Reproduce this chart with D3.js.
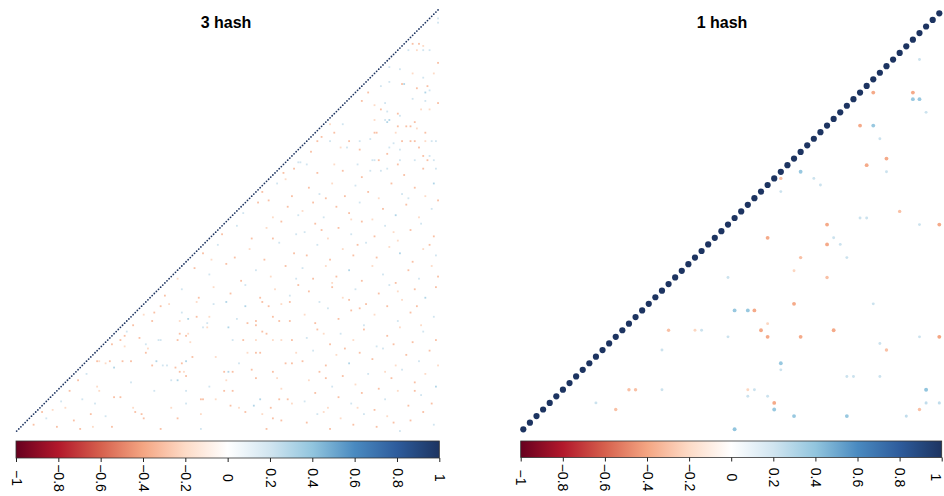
<!DOCTYPE html>
<html>
<head>
<meta charset="utf-8">
<script src="https://cdn.jsdelivr.net/npm/d3@7.9.0/dist/d3.min.js"></script>
<style>
  body { margin: 0; background: #fff; }
  svg { display: block; font-family: "Liberation Sans", Arial, sans-serif; }
</style>
</head>
<body>
<svg id="chart" width="944" height="496"></svg>
<script>
// two correlation plots, lower-right triangle, rows counted from the bottom
const panelTitles = ["3 hash", "1 hash"];
const varCounts = [200, 64];
const legendTicks = [-1, -0.8, -0.6, -0.4, -0.2, 0, 0.2, 0.4, 0.6, 0.8, 1];
const colorStops = ["#67001F", "#B2182B", "#D6604D", "#F4A582", "#FDDBC7", "#FFFFFF",
                    "#D1E5F0", "#92C5DE", "#4A8AC0", "#2E5C9C", "#1D3461"];

// [column, row, correlation] for the visible off-diagonal cells
const hash3Cells = [
  // lower middle block
  [68,59,-0.3],[72,60,-0.2],[85,61,-0.2],[93,60,0.2],[99,61,0.3],[108,59,0.3],[116,61,-0.3],[119,59,-0.3],[125,60,-0.2],[129,61,-0.3],
  [65,56,-0.3],[78,56,0.2],[85,54,-0.3],[91,54,-0.2],[64,52,-0.3],[77,52,-0.2],[81,53,0.3],[90,51,0.2],[100,49,0.3],[104,53,0.2],
  [109,51,-0.3],[113,52,-0.3],[113,50,-0.3],[121,54,-0.3],[124,52,-0.3],[129,52,-0.3],
  [51,45,-0.3],[49,43,-0.3],[51,40,-0.2],[61,37,-0.3],[62,39,-0.2],[67,43,0.2],[68,43,0.2],[76,43,-0.3],[77,46,-0.3],[80,45,-0.3],
  [81,46,-0.2],[82,42,-0.2],[88,49,0.2],[90,49,-0.2],[102,43,0.2],[107,43,-0.3],[113,43,-0.2],[116,47,-0.3],[118,46,-0.3],[121,43,-0.2],
  [125,43,-0.2],[130,43,-0.3],
  [44,33,-0.3],[42,32,-0.2],[46,30,0.3],[39,33,-0.2],[50,33,-0.3],[54,33,-0.3],[64,31,-0.3],[66,33,0.3],[69,31,0.2],[71,31,0.2],
  [75,30,-0.3],[78,32,-0.3],[80,33,0.3],[83,35,-0.3],[77,28,-0.3],[79,28,-0.2],[80,26,-0.3],[94,35,-0.2],[98,28,-0.3],[100,28,0.3],
  [102,28,-0.3],[105,32,0.2],[109,37,-0.2],[113,37,-0.3],[115,37,-0.3],[111,29,-0.3],[113,25,-0.3],[121,28,-0.3],[123,25,-0.2],[127,32,-0.3],
  [130,32,-0.3],[132,37,-0.2],
  [39,19,-0.2],[46,16,-0.3],[49,16,-0.3],[54,23,0.2],[42,7,0.2],[45,2,-0.3],[55,11,-0.2],[56,9,-0.3],[59,8,-0.3],[60,6,-0.3],
  [65,19,0.2],[73,24,0.2],[76,24,0.3],[80,19,0.2],[80,13,0.2],[68,1,-0.3],[73,11,-0.2],[76,6,-0.3],[87,8,-0.2],[87,15,-0.3],
  [88,15,-0.3],[94,15,-0.2],[91,21,0.2],[98,19,-0.3],[102,19,-0.3],[99,24,-0.2],[101,12,-0.3],[105,11,-0.2],[108,9,-0.3],[112,12,0.3],
  [115,15,0.3],[120,11,-0.3],[124,15,-0.3],[125,20,-0.2],[128,15,-0.3],[130,13,-0.2],[116,8,-0.2],[118,1,-0.3],[121,6,-0.3],[125,5,-0.3],
  [87,1,0.2],
  // upper right block
  [199,174,-0.3],[176,172,0.2],[181,171,0.2],[187,169,-0.2],[197,169,-0.2],[192,167,0.2],[195,161,0.2],[193,160,0.3],[189,162,-0.3],[176,165,0.2],
  [172,163,0.2],[182,164,-0.3],[183,164,0.3],[194,163,-0.3],[199,155,-0.3],[187,157,0.2],[193,156,0.2],[174,155,0.2],[169,154,-0.2],[166,160,-0.3],
  [163,156,-0.3],[172,152,-0.3],[175,151,0.2],[180,150,-0.3],[191,152,-0.2],[195,152,-0.2],[181,149,0.2],[169,147,-0.2],[174,147,0.2],[175,146,0.3],
  [176,147,0.3],[180,144,-0.3],[184,144,-0.3],[186,144,-0.3],[188,146,-0.3],[150,141,-0.3],[154,145,0.2],[148,145,-0.2],[169,141,-0.3],[170,141,-0.3],
  [167,138,0.2],[179,141,-0.2],[189,143,-0.2],[193,141,-0.3],[196,137,0.2],[198,137,0.2],[193,137,-0.2],[188,137,-0.3],[190,134,-0.3],[182,137,-0.3],
  [186,137,-0.3],[178,136,0.2],[162,137,0.2],[157,137,-0.3],[144,139,-0.3],[148,137,0.2],[142,137,-0.3],[139,132,-0.3],[153,134,-0.2],[156,134,0.2],
  [162,133,-0.3],[176,134,0.2],[175,131,-0.3],[181,133,0.2],[181,128,0.2],[188,128,0.2],[192,130,-0.3],[194,128,-0.3],[195,130,0.2],[197,128,0.2],
  [198,124,0.2],[192,124,-0.3],[180,126,-0.3],[175,124,0.2],[168,128,0.2],[169,128,0.2],[171,128,-0.3],[154,123,-0.3],[150,126,-0.2],[161,126,0.2],
  [163,120,-0.3],[167,123,0.2],[172,123,0.2],[183,121,-0.3],[142,122,-0.3],[134,127,0.2],[137,126,0.2],
  [187,183,-0.3],[190,183,-0.3],[192,182,-0.2],[199,195,0.2],[199,193,0.2],[185,180,0.2],[189,180,-0.2],[192,180,0.2],[195,180,0.2],
  // lower right block
  [138,115,-0.3],[143,112,0.2],[149,117,-0.2],[155,111,-0.3],[160,116,0.2],[166,113,-0.3],[171,110,-0.2],[177,117,-0.3],[182,112,0.2],[188,115,-0.3],
  [193,111,-0.2],[197,117,0.3],[146,110,-0.3],[185,110,0.2],
  [135,104,-0.2],[140,108,-0.3],[145,101,0.2],[151,106,-0.3],[157,103,-0.3],[162,108,0.2],[168,100,-0.2],[173,105,-0.3],[179,102,0.3],[184,107,-0.3],
  [190,101,-0.2],[196,105,0.2],[199,109,-0.3],[158,100,-0.2],
  [136,94,0.2],[141,98,-0.3],[147,91,-0.2],[152,96,-0.3],[158,93,0.2],[163,99,-0.3],[169,92,-0.3],[174,97,0.2],[180,90,-0.2],[186,95,-0.3],
  [191,98,0.2],[197,92,-0.3],[144,95,-0.3],[178,94,-0.2],
  [137,83,-0.3],[142,88,0.2],[148,81,-0.3],[154,86,-0.2],[159,83,-0.3],[165,89,0.2],[170,82,-0.3],[176,87,-0.2],[181,84,0.3],[187,80,-0.3],
  [192,86,-0.2],[198,83,0.2],[161,88,-0.3],[195,88,-0.3],
  [135,77,0.2],[140,72,-0.3],[146,78,-0.2],[151,73,-0.3],[157,76,0.3],[163,71,-0.3],[168,78,-0.2],[173,74,0.2],[179,70,-0.3],[185,76,-0.3],
  [190,72,0.2],[196,78,-0.2],[199,73,-0.3],[149,70,-0.2],
  [138,66,-0.3],[143,61,0.2],[149,68,-0.3],[154,63,-0.2],[160,67,0.2],[165,60,-0.3],[171,65,-0.3],[176,69,0.2],[182,62,-0.2],[188,67,-0.3],
  [193,63,0.3],[198,68,-0.3],[157,62,-0.3],[180,66,-0.2],
  [136,55,-0.2],[141,51,-0.3],[147,58,0.2],[152,53,-0.3],[158,57,-0.3],[164,50,0.2],[169,55,-0.2],[175,59,-0.3],[180,52,0.2],[186,56,-0.3],
  [191,50,-0.2],[197,54,0.2],[162,58,-0.3],[189,59,-0.3],
  [137,44,0.2],[142,48,-0.3],[148,41,-0.3],[153,46,0.2],[159,43,-0.2],[164,48,-0.3],[170,40,0.2],[175,45,-0.3],[181,49,-0.2],[187,42,-0.3],
  [192,47,0.2],[198,43,-0.3],[145,46,-0.2],[178,41,-0.3],
  [135,33,-0.3],[140,38,0.2],[146,31,-0.3],[151,36,-0.2],[157,32,0.3],[162,37,-0.3],[168,34,-0.3],[173,39,0.2],[179,31,-0.2],[184,36,-0.3],
  [190,33,0.2],[195,38,-0.3],[199,31,-0.2],[155,39,-0.3],
  [138,24,-0.2],[143,28,-0.3],[149,21,0.2],[154,26,-0.3],[160,22,-0.2],[166,27,0.2],[171,20,-0.3],[177,25,-0.3],[182,29,0.2],[188,23,-0.3],
  [193,27,-0.2],[198,21,0.3],[146,25,-0.3],[174,28,-0.2],
  [136,14,0.2],[141,18,-0.3],[147,11,-0.2],[152,16,-0.3],[158,13,0.2],[163,18,-0.3],[169,10,-0.3],[174,15,0.2],[180,19,-0.2],[185,12,-0.3],
  [191,17,0.2],[196,13,-0.3],[161,11,-0.2],[188,19,-0.3],
  [137,4,-0.3],[142,8,0.2],[148,1,-0.3],[153,6,-0.2],[159,3,-0.3],[164,8,0.2],[170,2,-0.3],[175,7,-0.2],[181,0,0.2],[186,5,-0.3],
  [192,9,-0.3],[197,3,0.2],[145,9,-0.2],[178,4,-0.3],
  // middle triangle
  [70,64,-0.3],[78,67,0.2],[86,63,-0.3],[93,68,-0.2],[101,65,-0.3],[108,69,0.2],[115,63,-0.3],[122,67,-0.2],[129,64,0.2],[133,69,-0.3],
  [76,72,-0.2],[84,77,-0.3],[91,74,0.2],[99,79,-0.3],[106,71,-0.3],[113,76,0.2],[120,73,-0.2],[127,78,-0.3],[132,72,0.2],
  [88,84,-0.3],[95,88,0.2],[103,82,-0.3],[110,86,-0.2],[117,81,-0.3],[124,89,0.2],[131,84,-0.3],[92,81,-0.2],
  [97,93,-0.3],[104,97,0.2],[111,91,-0.3],[118,96,-0.2],[125,99,-0.3],[132,93,0.2],[121,91,-0.3],
  [107,103,0.2],[114,108,-0.3],[121,101,-0.2],[128,106,-0.3],[133,102,0.2],[119,109,-0.3],
  [116,113,-0.3],[123,117,0.2],[130,111,-0.3],[127,119,-0.2],[126,122,-0.3],[133,127,0.2],[131,124,-0.3],
  // lower left corner
  [8,3,-0.3],[14,6,0.2],[19,2,-0.3],[23,11,-0.2],[27,5,-0.3],[31,15,0.2],[35,8,-0.3],[38,21,-0.2],[12,9,-0.3],[25,19,-0.3],
  [33,27,0.2],[36,2,-0.2],[29,24,-0.3],[21,14,0.2],[38,33,-0.3],[17,10,-0.2],[30,1,-0.3],[37,13,0.2],
  [45,41,-0.3],[52,47,0.2],[58,44,-0.3],[60,55,-0.2],[55,50,-0.3],[61,41,0.2]
];

const hash1Cells = [
  [60,56,0.22],[59,51,-0.38],[59,50,0.38],[60,50,0.38],[61,48,0.22],[53,51,-0.38],[51,46,-0.38],[53,46,0.38],[54,44,0.22],[42,39,0.38],
  [52,40,-0.38],[55,41,-0.38],[55,39,0.22],[39,38,-0.3],[39,36,0.22],[44,38,0.22],[45,37,0.22],[51,32,0.22],[52,32,0.22],[57,33,-0.3],
  [46,31,-0.38],[60,31,0.22],[63,31,-0.38],[37,29,-0.38],[47,29,0.22],[46,28,-0.38],[48,28,0.22],
  [42,26,-0.3],[49,26,0.22],[41,24,-0.22],[31,23,0.22],[46,23,-0.3],
  [41,19,-0.38],[53,19,0.22],[32,18,0.38],[34,18,0.38],[35,18,-0.38],[37,16,-0.22],[36,15,-0.38],[31,14,0.22],[37,14,-0.38],[42,14,-0.38],
  [47,15,-0.38],[60,14,0.22],[63,14,-0.4],[54,13,0.22],[55,12,-0.3],[39,10,0.38],[39,9,0.22],[49,8,0.22],[50,8,0.22],[54,8,0.22],
  [34,6,-0.22],[35,6,0.22],[61,6,0.4],[34,5,0.22],[37,5,0.22],[38,4,-0.38],[61,4,0.25],[63,4,0.25],[60,3,-0.3],[38,3,0.38],
  [41,2,0.38],[49,2,0.38],[58,2,0.25],[32,0,0.4],
  [26,15,-0.22],[27,15,0.22],[22,15,-0.3],[21,12,0.22],[16,6,-0.3],[17,6,-0.3],[21,6,0.22],[11,4,0.22],[14,3,-0.3]
];

const svg = d3.select("#chart");
const color = d3.scaleLinear()
  .domain(d3.range(colorStops.length).map(i => -1 + 2 * i / (colorStops.length - 1)))
  .range(colorStops)
  .interpolate(d3.interpolateRgb);

const panels = [
  { id: 0, title: panelTitles[0], n: varCounts[0], cells: hash3Cells,
    xr: [15.6, 439.1], yr: [432.1, 8.9], bar: [16, 439.3], barY: [441, 458], titleX: 226 },
  { id: 1, title: panelTitles[1], n: varCounts[1], cells: hash1Cells,
    xr: [520, 942.6], yr: [432.6, 10], bar: [520.7, 941.7], barY: [441, 457.5], titleX: 722 }
];

// gradient for the colour legend
const grad = svg.append("defs").append("linearGradient").attr("id", "rdbu");
d3.range(0, 1.0001, 0.05).forEach(t => {
  grad.append("stop").attr("offset", t).attr("stop-color", color(-1 + 2 * t));
});

panels.forEach(p => {
  const g = svg.append("g");
  const x = d3.scaleBand().domain(d3.range(p.n)).range(p.xr);
  const y = d3.scaleBand().domain(d3.range(p.n)).range(p.yr);
  const bw = x.bandwidth();
  const diag = d3.range(p.n).map(i => [i, i, 1]);

  if (p.id === 1) {
    const rad = d3.scaleSqrt().domain([0, 1]).range([0, bw * 0.47]);
    g.selectAll("circle")
      .data(p.cells.concat(diag))
      .join("circle")
      .attr("cx", d => x(d[0]) + bw / 2)
      .attr("cy", d => y(d[1]) + bw / 2)
      .attr("r", d => rad(Math.abs(d[2])))
      .attr("fill", d => color(d[2]));
  } else {
    g.selectAll("rect")
      .data(p.cells)
      .join("rect")
      .attr("x", d => x(d[0]) + 0.15)
      .attr("y", d => y(d[1]) + 0.15)
      .attr("width", bw - 0.3)
      .attr("height", bw - 0.3)
      .attr("fill", d => color(d[2]));
    g.selectAll("circle")
      .data(diag)
      .join("circle")
      .attr("cx", d => x(d[0]) + bw / 2)
      .attr("cy", d => y(d[1]) + bw / 2)
      .attr("r", bw * 0.42)
      .attr("fill", d => color(d[2]));
  }

  g.append("text")
    .attr("x", p.titleX)
    .attr("y", 28)
    .attr("text-anchor", "middle")
    .attr("font-weight", "bold")
    .attr("font-size", 16)
    .text(p.title);

  // colour legend
  g.append("rect")
    .attr("x", p.bar[0])
    .attr("y", p.barY[0])
    .attr("width", p.bar[1] - p.bar[0])
    .attr("height", p.barY[1] - p.barY[0])
    .attr("fill", "url(#rdbu)")
    .attr("stroke", "#333")
    .attr("stroke-width", 0.8);

  const lx = d3.scaleLinear().domain([-1, 1]).range(p.bar);
  const axis = g.append("g")
    .attr("transform", `translate(0,${p.barY[1]})`)
    .call(d3.axisBottom(lx).tickValues(legendTicks).tickSize(4).tickFormat(d3.format("")));
  axis.select(".domain").remove();
  axis.selectAll(".tick line").attr("stroke", "#222");
  axis.selectAll(".tick text")
    .attr("y", 0)
    .attr("dy", "0.35em")
    .attr("transform", d => `translate(${lx(d) > 938 ? -6 : 0},20) rotate(90)`)
    .attr("text-anchor", "middle")
    .attr("font-size", 14)
    .attr("font-family", "Liberation Sans, Arial, sans-serif")
    .attr("fill", "#000");
});
</script>
</body>
</html>
